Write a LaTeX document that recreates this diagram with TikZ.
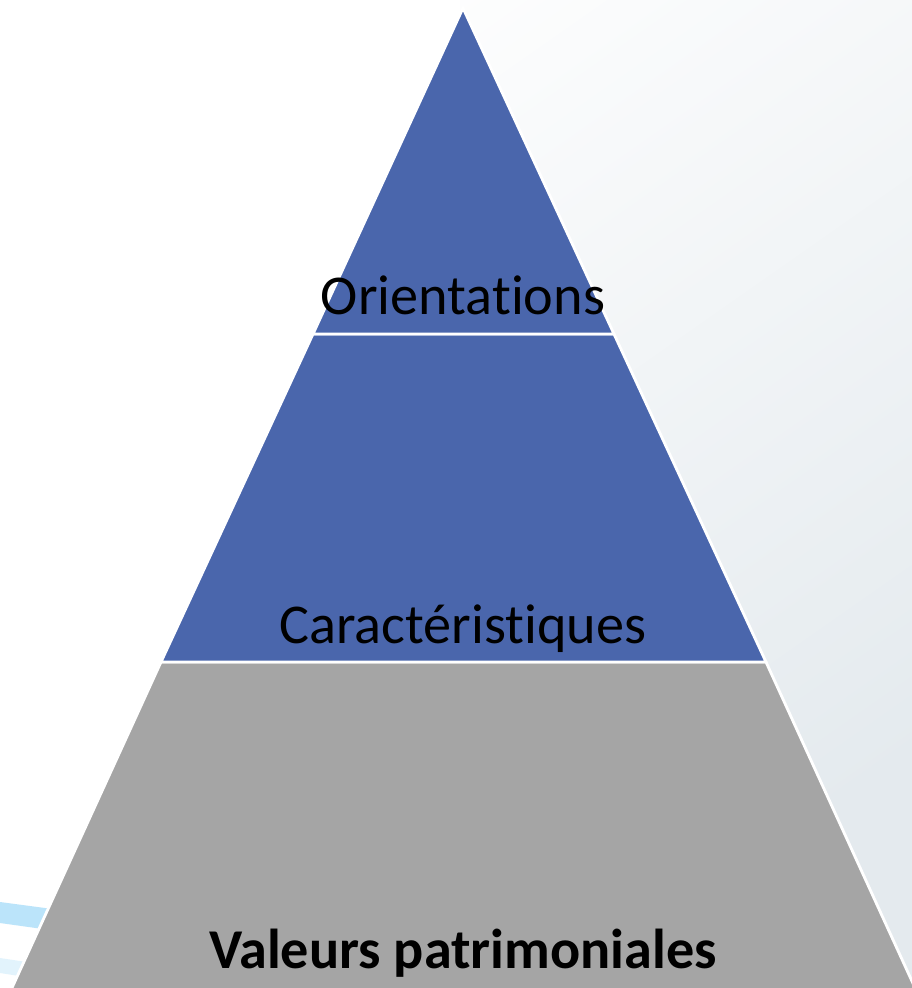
\documentclass[tikz,border=0pt]{standalone}
\usepackage{fontspec}
\setmainfont[Ligatures=NoCommon]{Carlito}
\usepackage{xcolor}
\usetikzlibrary{positioning}

\definecolor{bandblue}{HTML}{4A66AC}
\definecolor{bandgray}{HTML}{A5A5A5}
\definecolor{bgshade}{HTML}{E4EAEE}
\definecolor{streak}{HTML}{8FD3F7}

\begin{document}
\begin{tikzpicture}[x=0.02cm, y=-0.02cm,
    band/.style={draw=white, line width=1.6pt, line join=miter},
    label/.style={anchor=base, font=\fontsize{32}{38}\selectfont, inner sep=0pt}]
    % background
    \useasboundingbox (0,0) rectangle (912,988);
    \shade[top color=white, bottom color=bgshade, shading angle=35] (0,0) rectangle (912,988);
    \fill[white] (0,0) rectangle (460,988);
    \fill[streak, opacity=0.6] (0,902) -- (60,910) -- (50,930) -- (0,923) -- cycle;
    \fill[streak, opacity=0.25] (0,958) -- (40,964) -- (32,978) -- (0,973) -- cycle;

    % corners of the pyramid
    \coordinate (apex) at (463,8);
    \coordinate (l1) at (313,334);
    \coordinate (r1) at (614,334);
    \coordinate (l2) at (161,662);
    \coordinate (r2) at (766,662);
    \coordinate (l3) at (11,990);
    \coordinate (r3) at (916,990);

    % bands
    \filldraw[band, fill=bandgray] (l2) -- (r2) -- (r3) -- (l3) -- cycle;
    \filldraw[band, fill=bandblue] (l1) -- (r1) -- (r2) -- (l2) -- cycle;
    \filldraw[band, fill=bandblue] (apex) -- (r1) -- (l1) -- cycle;

    % labels
    \node[label] (orient) at (463,314) {Orientations};
    \node[label] (caract) at (463,643) {Caractéristiques};
    \node[label, font=\fontsize{32}{38}\selectfont\bfseries] (valeurs) at (463,968) {Valeurs patrimoniales};
\end{tikzpicture}
\end{document}
